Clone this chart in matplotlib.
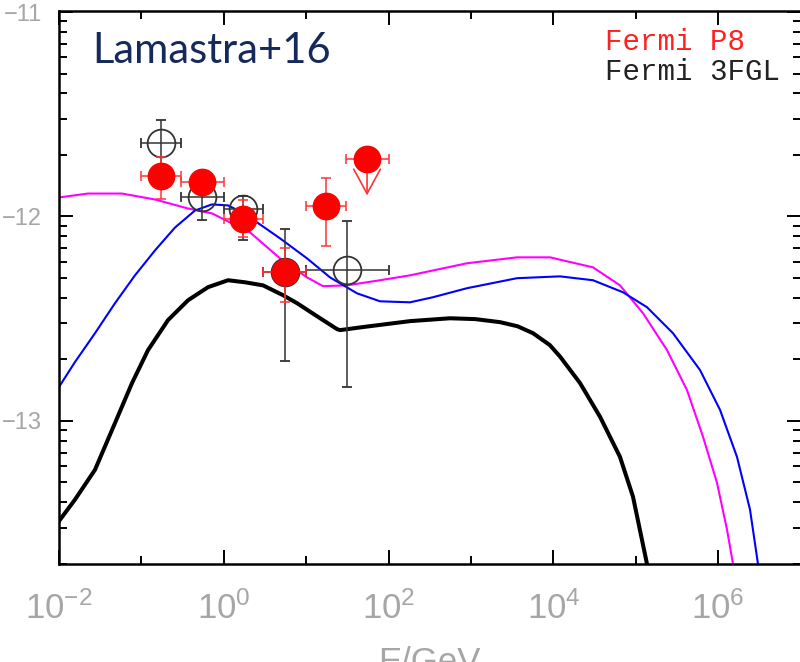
import numpy as np
import matplotlib
matplotlib.use("Agg")
import matplotlib.pyplot as plt
from matplotlib.ticker import FixedLocator, NullFormatter

plt.rcParams['mathtext.fontset'] = 'custom'
plt.rcParams['mathtext.rm'] = 'Liberation Sans'

# Fermi P8 bins (GeV) and log10 flux with error bar ends
p8_edges = np.array([0.1, 0.3, 1.0, 3.0, 10.0, 30.0])
p8_flux = np.array([-11.80, -11.83, -12.01, -12.27, -11.95])
p8_lo = np.array([-11.915, -11.88, -12.10, -12.42, -12.146])
p8_hi = np.array([-11.71, -11.78, -11.92, -12.155, -11.81])
# upper limit in the 30-100 GeV bin
ul_edges = np.array([30.0, 100.0])
ul_flux = -11.717
ul_arrow = 0.18

# Fermi 3FGL bands
fgl_edges = np.array([0.1, 0.3, 1.0, 3.0, 10.0, 100.0])
fgl_flux = np.array([-11.64, -11.905, -11.965, -12.27, -12.26])
fgl_lo = np.array([-11.75, -12.015, -12.117, -12.707, -12.834])
fgl_hi = np.array([-11.527, -11.80, -11.898, -12.059, -12.024])

# model curves: log10(E/GeV), log10 flux
black_logE = np.array([-2.0, -1.806, -1.563, -1.320, -1.114, -0.920, -0.677, -0.434, -0.192, 0.051,
                       0.257, 0.476, 0.718, 0.888, 1.131, 1.374, 1.410, 1.689, 2.260, 2.745, 3.049,
                       3.352, 3.564, 3.752, 3.956, 4.080, 4.323, 4.566, 4.808, 4.966, 5.136])
black_logF = np.array([-13.49, -13.385, -13.239, -13.010, -12.815, -12.654, -12.507, -12.410, -12.346, -12.312,
                       -12.322, -12.337, -12.385, -12.424, -12.488, -12.551, -12.556, -12.541, -12.512, -12.498, -12.502,
                       -12.517, -12.537, -12.571, -12.629, -12.685, -12.815, -12.980, -13.176, -13.371, -13.70])

magenta_logE = np.array([-2.0, -1.648, -1.235, -0.835, -0.434, -0.143, 0.100, 0.318, 0.682, 1.010, 1.204,
                         1.495, 1.896, 2.260, 2.951, 3.558, 3.959, 4.481, 4.808, 5.087, 5.379, 5.621,
                         5.816, 5.985, 6.107, 6.180])
magenta_logF = np.array([-11.907, -11.888, -11.888, -11.917, -11.961, -11.985, -12.034, -12.078, -12.205, -12.298, -12.341,
                         -12.337, -12.312, -12.288, -12.229, -12.200, -12.200, -12.249, -12.337, -12.473, -12.654, -12.849,
                         -13.078, -13.302, -13.532, -13.70])

blue_logE = np.array([-2.0, -1.806, -1.563, -1.320, -1.078, -0.835, -0.592, -0.350, -0.143, 0.051, 0.221,
                      0.318, 0.682, 1.010, 1.289, 1.617, 1.896, 2.260, 2.539, 2.951, 3.558, 4.080,
                      4.481, 4.845, 5.136, 5.451, 5.779, 6.022, 6.228, 6.386, 6.483])
blue_logF = np.array([-12.834, -12.712, -12.571, -12.424, -12.288, -12.166, -12.054, -11.971, -11.941, -11.946, -11.980,
                      -12.005, -12.107, -12.205, -12.298, -12.376, -12.415, -12.420, -12.395, -12.351, -12.302, -12.293,
                      -12.312, -12.371, -12.444, -12.571, -12.751, -12.946, -13.176, -13.434, -13.70])

fig = plt.figure(figsize=(8, 6.62), dpi=100)
ax = fig.add_axes([59 / 800, 98 / 662, 741.6 / 800, 553 / 662])
ax.set_xscale('log')
ax.set_xlim(1e-2, 1e7)
ax.set_ylim(-13.70, -10.995)

ax.plot(10 ** black_logE, black_logF, color='black', lw=2.9, zorder=2, solid_joinstyle='round')
ax.plot(10 ** magenta_logE, magenta_logF, color='#ff00ff', lw=1.5, zorder=2, solid_joinstyle='round')
ax.plot(10 ** blue_logE, blue_logF, color='#0000ff', lw=1.5, zorder=2, solid_joinstyle='round')

def bin_errorbar(edges, flux, lo, hi, **kw):
    x = np.sqrt(edges[:-1] * edges[1:])
    ax.errorbar(x, flux, xerr=[x - edges[:-1], edges[1:] - x],
                yerr=[flux - lo, hi - flux], **kw)

bin_errorbar(fgl_edges, fgl_flux, fgl_lo, fgl_hi, fmt='o', ms=20, mfc='none', mec='#333333',
             mew=1.3, ecolor='#333333', elinewidth=1.1, capsize=3.5, capthick=1.1, zorder=3)
bin_errorbar(p8_edges, p8_flux, p8_lo, p8_hi, fmt='o', ms=19, mfc='#ff0000', mec='#ff0000',
             ecolor='#ff3333', elinewidth=1.1, capsize=3.5, capthick=1.1, zorder=4)

# upper limit point
ul_x = np.sqrt(ul_edges[0] * ul_edges[1])
ax.errorbar([ul_x], [ul_flux], xerr=[[ul_x - ul_edges[0]], [ul_edges[1] - ul_x]], fmt='o', ms=19,
            mfc='#ff0000', mec='#ff0000', ecolor='#ff3333', elinewidth=1.1, capsize=3.5,
            capthick=1.1, zorder=4)
ax.annotate('', xy=(ul_x, ul_flux - ul_arrow), xytext=(ul_x, ul_flux),
            arrowprops=dict(arrowstyle='->,head_length=1.1,head_width=0.6', color='#ff3333', lw=1.2,
                            shrinkA=0, shrinkB=0, mutation_scale=16),
            zorder=4)

# axes styling
for s in ax.spines.values():
    s.set_linewidth(1.8)
ax.xaxis.set_major_locator(FixedLocator([1e-2, 1e0, 1e2, 1e4, 1e6]))
ax.xaxis.set_minor_locator(FixedLocator([1e-1, 1e1, 1e3, 1e5, 1e7]))
ax.xaxis.set_minor_formatter(NullFormatter())
ax.set_xticklabels([r'$\mathregular{10^{-2}}$', r'$\mathregular{10^{0}}$', r'$\mathregular{10^{2}}$',
                    r'$\mathregular{10^{4}}$', r'$\mathregular{10^{6}}$'])
ax.yaxis.set_major_locator(FixedLocator([-13, -12, -11]))
ax.set_yticklabels(['\u221213', '\u221212', '\u221211'])
minor_y = [n + np.log10(k) for n in (-14, -13, -12) for k in range(2, 10)]
ax.yaxis.set_minor_locator(FixedLocator(minor_y))

ax.tick_params(which='both', direction='in', top=True, right=True, width=1.4, colors='black')
ax.tick_params(which='major', length=10)
ax.tick_params(which='minor', length=5.5)
ax.tick_params(axis='x', which='major', pad=20, labelsize=25, labelcolor='#a6a6a6')
ax.tick_params(axis='y', which='major', pad=12, labelsize=17, labelcolor='#a6a6a6')
for lab in ax.get_xticklabels() + ax.get_yticklabels():
    lab.set_family('Liberation Sans')

ax.set_xlabel('E/GeV', fontsize=25, color='#a6a6a6', family='Liberation Sans', labelpad=14)

ax.text(0.0445, 0.906, 'Lamastra+16', transform=ax.transAxes, fontsize=30,
        family='Lato', color='#15295a', va='baseline', ha='left')
ax.text(0.736, 0.9295, 'Fermi P8', transform=ax.transAxes, fontsize=21,
        family='Liberation Mono', color='#ff2020', va='baseline', ha='left')
ax.text(0.736, 0.875, 'Fermi 3FGL', transform=ax.transAxes, fontsize=21,
        family='Liberation Mono', color='#222222', va='baseline', ha='left')

fig.savefig('out.png', dpi=100)
